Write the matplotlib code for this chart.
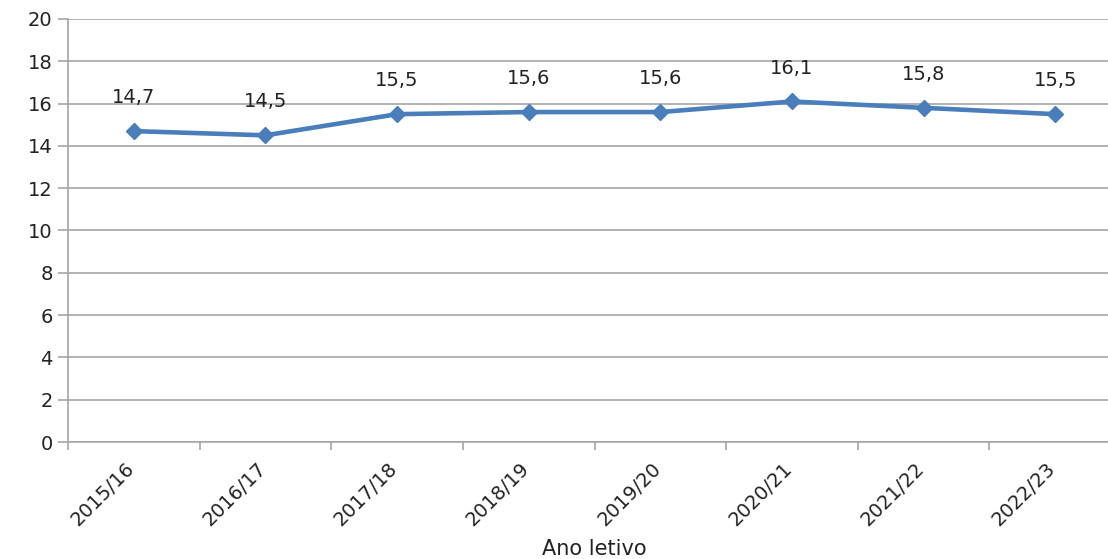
import matplotlib
matplotlib.use("Agg")
import matplotlib.pyplot as plt
import matplotlib.transforms as mtransforms
import numpy as np

anos = ["2015/16", "2016/17", "2017/18", "2018/19", "2019/20", "2020/21", "2021/22", "2022/23"]
valores = [14.7, 14.5, 15.5, 15.6, 15.6, 16.1, 15.8, 15.5]
rotulos = ["14,7", "14,5", "15,5", "15,6", "15,6", "16,1", "15,8", "15,5"]

plt.rcParams['font.family'] = ['DejaVu Sans']

fig = plt.figure(figsize=(11.08, 5.59), dpi=100)
ax = fig.add_axes([68 / 1108, 117 / 559, 1053 / 1108, 423 / 559])

grid_col = "#a6a6a6"
txt_col = "#222222"
x = np.arange(len(anos))
ax.plot(x, valores, color="#4a7ebb", linewidth=3.3, marker="D", markersize=8.5, zorder=3)

for xi, v, r in zip(x, valores, rotulos):
    ax.annotate(r, (xi, v), xytext=(0, 24), textcoords="offset points",
                ha="center", va="center", fontsize=14, color=txt_col)

ax.set_xlim(-0.5, len(anos) - 0.5)
ax.set_ylim(0, 20)
ax.set_yticks(np.arange(0, 21, 2))
ax.set_xticks(x)
ax.set_xticklabels(anos, rotation=45, ha="right", rotation_mode="anchor", fontsize=14, color=txt_col)
ax.set_xticks(np.arange(-0.5, len(anos), 1), minor=True)
ax.tick_params(axis="x", which="major", length=0, pad=12)
ax.tick_params(axis="x", which="minor", length=6, color=grid_col, width=1.2)
ax.tick_params(axis="y", length=7, color=grid_col, width=1.2, labelsize=14, labelcolor=txt_col, pad=4)

# desloca os rótulos inclinados um pouco para a esquerda
shift = mtransforms.ScaledTranslation(-6.5 / 72, 0, fig.dpi_scale_trans)
for lab in ax.get_xticklabels():
    lab.set_transform(lab.get_transform() + shift)

ax.grid(axis="y", color=grid_col, linewidth=1.2)
ax.set_axisbelow(True)
for s in ["top", "right"]:
    ax.spines[s].set_visible(False)
for s in ["left", "bottom"]:
    ax.spines[s].set_color(grid_col)
    ax.spines[s].set_linewidth(1.2)

fig.text(594 / 1108, 4 / 559, "Ano letivo", ha="center", va="baseline", fontsize=15, color=txt_col)

fig.savefig("out.png", dpi=100)
